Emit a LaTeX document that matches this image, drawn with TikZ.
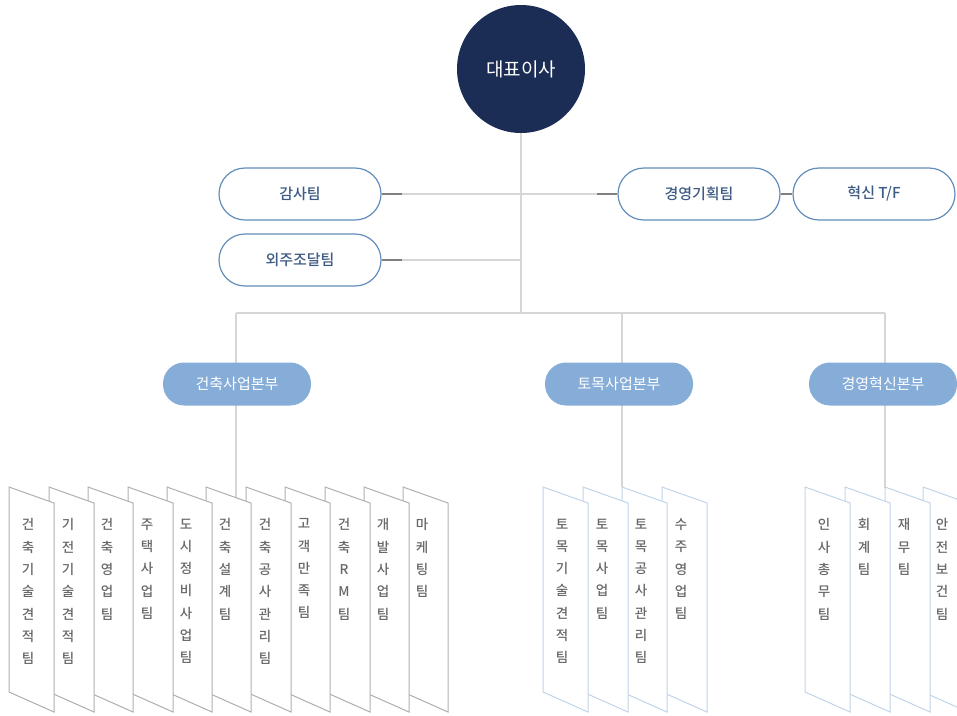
\documentclass[tikz,border=0pt]{standalone}
\usepackage{fontspec}
\setmainfont{Noto Sans CJK KR}
\newfontfamily\medfont{Noto Sans CJK KR Medium}
\usetikzlibrary{backgrounds}
\definecolor{navy}{HTML}{1B2D55}
\definecolor{divfill}{HTML}{86ADD8}
\definecolor{staffline}{HTML}{628DBB}
\definecolor{stafftext}{HTML}{3E5B85}
\definecolor{conn}{HTML}{D6D6D6}
\definecolor{conndark}{HTML}{7F7F7F}
\definecolor{cardgray}{HTML}{B0B0B0}
\definecolor{cardblue}{HTML}{C2D4E8}
\definecolor{cardtext}{HTML}{686868}
\tikzset{
  ceo/.style={circle,fill=navy,minimum size=128pt,inner sep=0,text=white,font=\fontsize{19}{22}\selectfont},
  staff/.style={draw=staffline,line width=1.2pt,fill=white,rounded corners=26pt,minimum width=162pt,minimum height=52pt,inner sep=0,text=stafftext,font=\medfont\fontsize{15}{18}\selectfont},
  divnode/.style={fill=divfill,rounded corners=21pt,minimum width=148pt,minimum height=43pt,inner sep=0,text=white,font=\fontsize{15}{18}\selectfont},
  ln/.style={draw=conn,line width=1.1pt},
  lndark/.style={draw=conndark,line width=1.3pt},
  cardshape/.style={fill=white,line width=1pt},
  cardtxt/.style={anchor=north,inner sep=0,align=center,text=cardtext,font=\medfont\fontsize{13.5}{22.3}\selectfont}
}
\newcommand\mycard[4]{%
  \draw[cardshape,draw=#4] (#1,487) -- ++(45,16) -- ++(0,209) -- ++(-45,-20) -- cycle;
  \node[cardtxt] (#2) at (#1+19,518.5) {#3};
}
\begin{document}
\begin{tikzpicture}[x=1pt,y=-1pt]
\useasboundingbox (0,0) rectangle (957,715);
\clip (0,0) rectangle (957,715);

% top
\node[ceo] (ceo) at (521,69) {대표이사};
\node[staff] (gamsa) at (300,194) {감사팀};
\node[staff] (oeju) at (300,260) {외주조달팀};
\node[staff] (gyeong) at (699,194) {경영기획팀};
\node[staff] (hyeok) at (874,194) {혁신 T/F};

% divisions
\node[divnode] (d1) at (237,384) {건축사업본부};
\node[divnode] (d2) at (619,384) {토목사업본부};
\node[divnode] (d3) at (883,384) {경영혁신본부};

\coordinate (bus) at (521,313);
\coordinate (busl) at (236,313);
\coordinate (busm) at (622,313);
\coordinate (busr) at (885,313);
\coordinate (ja) at (521,194);
\coordinate (jb) at (521,260);
\coordinate (t1) at (236,497.7);
\coordinate (t2) at (622,487);
\coordinate (t3) at (885,488);

\begin{scope}[on background layer]
  \draw[ln] (ceo.south) -- (bus);
  \draw[ln] (busl) -- (busr);
  \draw[ln] (busl) -- (t1);
  \draw[ln] (busm) -- (t2);
  \draw[ln] (busr) -- (t3);
  \draw[ln] (gamsa.east) -- (ja);
  \draw[ln] (oeju.east) -- (jb);
  \draw[ln] (ja) -- (gyeong.west);
\end{scope}
\draw[lndark] (gamsa.east) -- ++(20,0);
\draw[lndark] (oeju.east) -- ++(20,0);
\draw[lndark] (gyeong.west) -- ++(-20,0);
\draw[lndark] (gyeong.east) -- (hyeok.west);

% group 1 cards (right to left, left ones on top)
\mycard{403}{a11}{마\\케\\팅\\팀}{cardgray}
\mycard{364}{a10}{개\\발\\사\\업\\팀}{cardgray}
\mycard{325}{a9}{건\\축\\R\\M\\팀}{cardgray}
\mycard{285}{a8}{고\\객\\만\\족\\팀}{cardgray}
\mycard{246}{a7}{건\\축\\공\\사\\관\\리\\팀}{cardgray}
\mycard{206}{a6}{건\\축\\설\\계\\팀}{cardgray}
\mycard{167}{a5}{도\\시\\정\\비\\사\\업\\팀}{cardgray}
\mycard{128}{a4}{주\\택\\사\\업\\팀}{cardgray}
\mycard{88}{a3}{건\\축\\영\\업\\팀}{cardgray}
\mycard{49}{a2}{기\\전\\기\\술\\견\\적\\팀}{cardgray}
\mycard{9}{a1}{건\\축\\기\\술\\견\\적\\팀}{cardgray}

% group 2
\mycard{662}{b4}{수\\주\\영\\업\\팀}{cardblue}
\mycard{622}{b3}{토\\목\\공\\사\\관\\리\\팀}{cardblue}
\mycard{583}{b2}{토\\목\\사\\업\\팀}{cardblue}
\mycard{543}{b1}{토\\목\\기\\술\\견\\적\\팀}{cardblue}

% group 3
\mycard{923}{c4}{안\\전\\보\\건\\팀}{cardblue}
\mycard{885}{c3}{재\\무\\팀}{cardblue}
\mycard{845}{c2}{회\\계\\팀}{cardblue}
\mycard{805}{c1}{인\\사\\총\\무\\팀}{cardblue}
\end{tikzpicture}
\end{document}
